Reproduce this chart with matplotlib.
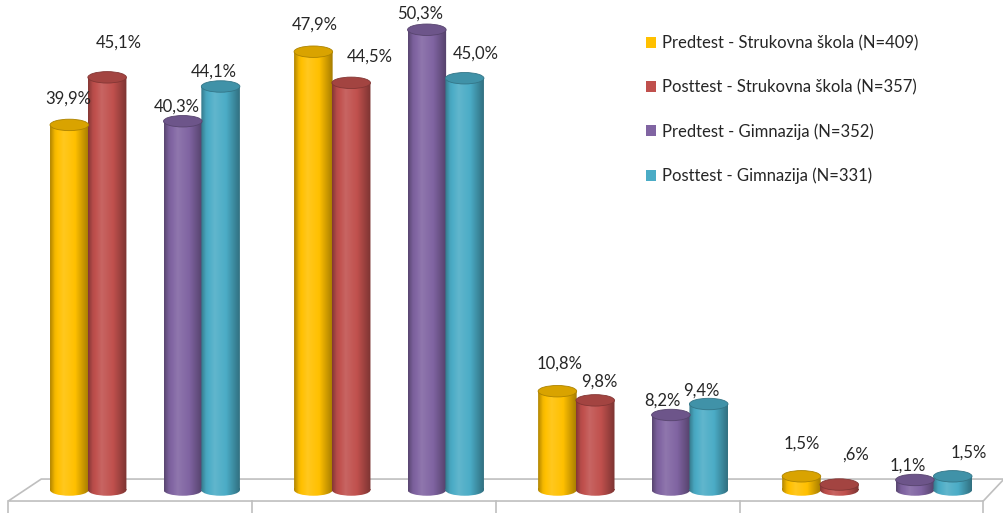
import numpy as np
import matplotlib
matplotlib.use('Agg')
import matplotlib.pyplot as plt
from matplotlib.patches import Ellipse, Patch, PathPatch, Polygon
from matplotlib.path import Path
from matplotlib.transforms import Affine2D
from matplotlib.colors import to_rgb

plt.rcParams['font.family'] = ['Lato', 'DejaVu Sans']

# data
series_names = ['Predtest - Strukovna škola (N=409)',
                'Posttest - Strukovna škola (N=357)',
                'Predtest - Gimnazija (N=352)',
                'Posttest - Gimnazija (N=331)']
predtest_strukovna = [39.9, 47.9, 10.8, 1.5]
posttest_strukovna = [45.1, 44.5, 9.8, 0.6]
predtest_gimnazija = [40.3, 50.3, 8.2, 1.1]
posttest_gimnazija = [44.1, 45.0, 9.4, 1.5]
series_values = [predtest_strukovna, posttest_strukovna,
                 predtest_gimnazija, posttest_gimnazija]
colors = ['#FFC000', '#C0504D', '#8064A2', '#4BACC6']

# layout (Excel put the labels a bit all over the place), pixels
label_offsets = [
    [(-1, 26), (1, 27), (2, 28), (0, 33)],
    [(12, 35), (19, 26), (4, 19), (16, 30)],
    [(-6, 15), (-7, 16), (-8, 14), (-7, 14)],
    [(-7, 15), (11, 25), (-7, 13), (16, 24)],
]
bar_shift = [-0.31, -0.155, 0.155, 0.31]
bar_w = 0.158
ell_h = 1.25


def shade(c, f):
    c = np.array(to_rgb(c))
    if f > 0:
        return c + (1 - c) * f
    return c * (1 + f)


def cylinder(ax, x, h, color):
    t = np.linspace(0, 1, 64)
    f = np.interp(t, [0, 0.12, 0.35, 0.65, 1], [-0.3, -0.05, 0.12, 0.0, -0.35])
    grad = np.array([[shade(color, v) for v in f]])
    left, right = x - bar_w / 2, x + bar_w / 2
    im = ax.imshow(grad, extent=(left, right, -ell_h / 2, h), aspect='auto',
                   interpolation='bilinear', zorder=3)
    rect = Path([(left, 0), (right, 0), (right, h), (left, h), (left, 0)], closed=True)
    circ = Path.unit_circle().transformed(Affine2D().scale(bar_w / 2, ell_h / 2).translate(x, 0))
    clip = PathPatch(Path.make_compound_path(rect, circ), transform=ax.transData,
                     facecolor='none', edgecolor='none')
    ax.add_patch(clip)
    im.set_clip_path(clip)
    top = Ellipse((x, h), bar_w, ell_h, facecolor=shade(color, -0.15),
                  edgecolor=shade(color, -0.32), linewidth=0.6, zorder=4)
    ax.add_patch(top)


fig = plt.figure(figsize=(10.04, 5.13), dpi=100)
ax = fig.add_axes([0, 0, 1, 1])
ax.set_xlim(-0.594, 3.52)
ax.set_ylim(-2.51, 53.55)
ax.axis('off')

# floor
floor = Polygon([(-0.56, -1.2), (3.435, -1.2), (3.52, 1.2), (-0.425, 1.2)],
                closed=True, facecolor='white', edgecolor='#BFBFBF', linewidth=1.2, zorder=1)
ax.add_patch(floor)
for k in range(5):
    xt = -0.56 + k * (3.435 + 0.56) / 4
    ax.plot([xt, xt], [-1.2, -2.6], color='#BFBFBF', linewidth=1.2, zorder=1, clip_on=False)

groups = np.arange(4)
for s, vals in enumerate(series_values):
    for g, v in enumerate(vals):
        x = groups[g] + bar_shift[s]
        cylinder(ax, x, v, colors[s])
        txt = f'{v:.1f}'.replace('.', ',')
        if txt.startswith('0'):
            txt = txt[1:]
        dx, dy = label_offsets[s][g]
        ax.annotate(txt + '%', (x, v), xytext=(dx, dy), textcoords='offset pixels',
                    ha='center', va='center', fontsize=12, color='#262626', zorder=6)

handles = [Patch(facecolor=c, edgecolor='none') for c in colors]
ax.legend(handles, series_names, loc='upper left', bbox_to_anchor=(0.643, 0.932),
          frameon=False, fontsize=12, handlelength=0.62, handleheight=0.62,
          handletextpad=0.35, labelspacing=1.68, borderpad=0, borderaxespad=0,
          labelcolor='#262626')

fig.savefig('out.png', dpi=100)
